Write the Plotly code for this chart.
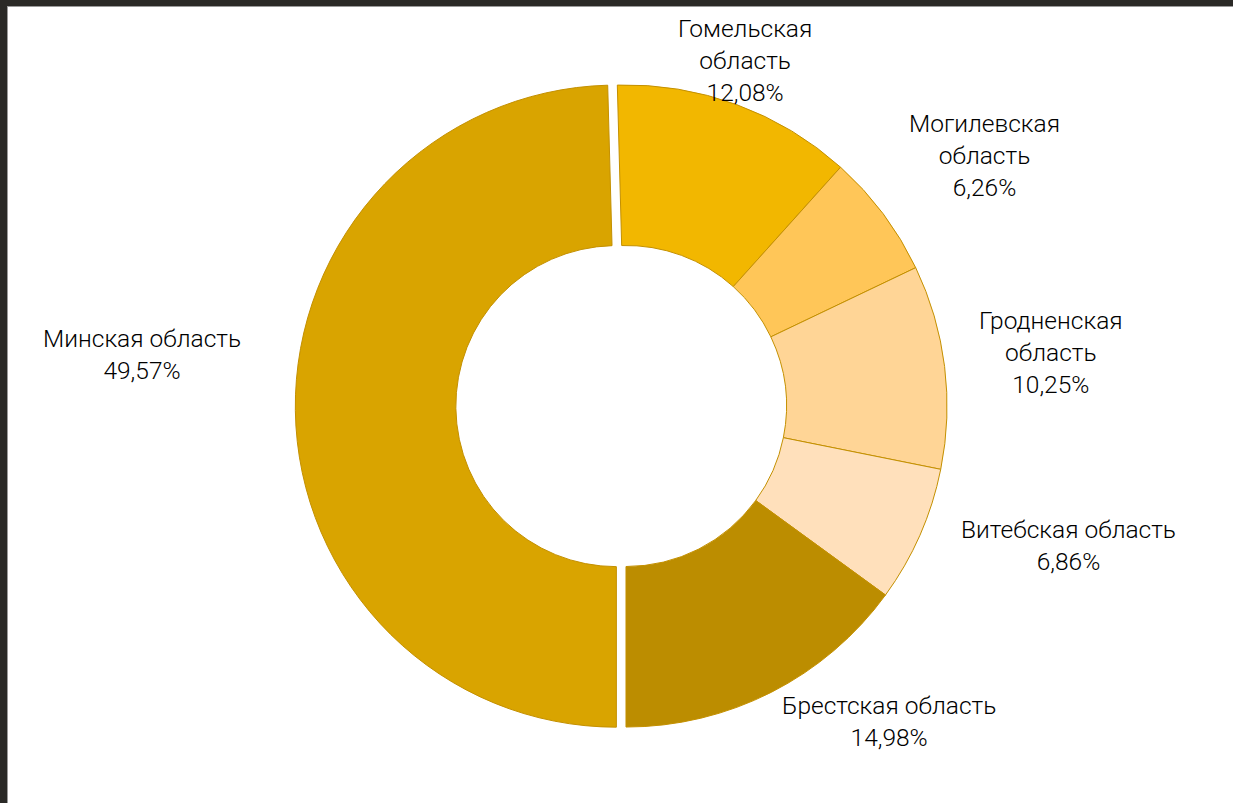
import plotly.graph_objects as go

# Data (clockwise from bottom: Minsk first)
regions = ["Минская область", "Гомельская область", "Могилевская область",
           "Гродненская область", "Витебская область", "Брестская область"]
label_text = ["Минская область", "Гомельская<br>область", "Могилевская<br>область",
              "Гродненская<br>область", "Витебская область", "Брестская область"]
shares = [49.57, 12.08, 6.26, 10.25, 6.86, 14.98]
colors = ["#D9A400", "#F2B700", "#FFC658", "#FFD596", "#FFE0BB", "#BC8D00"]
pulls = [0.03, 0, 0, 0, 0, 0]

W, H = 1233, 803
fig = go.Figure()
fig.add_trace(go.Pie(
    labels=regions,
    values=shares,
    sort=False,
    direction="clockwise",
    rotation=180,
    hole=0.5,
    pull=pulls,
    marker=dict(colors=colors, line=dict(color="#C49000", width=1)),
    textinfo="none",
    hoverinfo="label+percent",
    showlegend=False,
    domain=dict(x=[0.2077, 0.8077], y=[0.0826, 0.9062]),
))

# label positions (pixel centers) for each region
label_pos = [(142, 354), (745, 61), (985, 155), (1051, 352), (1068, 545), (889, 721)]
for txt, v, (px, py) in zip(label_text, shares, label_pos):
    fig.add_annotation(
        x=px / W, y=1 - py / H, xref="paper", yref="paper",
        text=f"{txt}<br>{v:.2f}%".replace(".", ","),
        showarrow=False, xanchor="center", yanchor="middle",
        font=dict(family="Roboto", size=24.5, color="#000000", weight=300),
        align="center",
    )

# dark screenshot frame (top and left)
fig.add_shape(type="rect", xref="paper", yref="paper", x0=0, x1=1, y0=1 - 6 / H, y1=1,
              fillcolor="#2a2926", line_width=0, layer="above")
fig.add_shape(type="rect", xref="paper", yref="paper", x0=0, x1=7 / W, y0=0, y1=1,
              fillcolor="#2a2926", line_width=0, layer="above")
fig.add_shape(type="line", xref="paper", yref="paper", x0=7 / W, x1=1, y0=1 - 6.5 / H, y1=1 - 6.5 / H,
              line=dict(color="#9a9a9a", width=1), layer="above")
fig.add_shape(type="line", xref="paper", yref="paper", x0=7.5 / W, x1=7.5 / W, y0=0, y1=1 - 6 / H,
              line=dict(color="#9a9a9a", width=1), layer="above")

fig.update_layout(
    width=W, height=H,
    margin=dict(l=0, r=0, t=0, b=0),
    paper_bgcolor="white",
    plot_bgcolor="white",
)

fig.write_html("out.html", config={"displayModeBar": False},
               post_script="document.body.style.margin='0';document.body.style.overflow='hidden';")
